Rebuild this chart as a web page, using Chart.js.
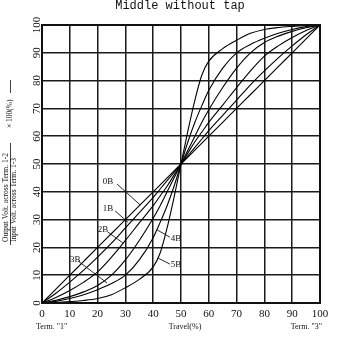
<!DOCTYPE html>
<html>
<head>
<meta charset="utf-8">
<script src="https://cdn.jsdelivr.net/npm/chart.js@4.4.1/dist/chart.umd.min.js"></script>
<style>
  html, body { margin: 0; padding: 0; background: #fff; }
  canvas { display: block; }
</style>
</head>
<body>
<canvas id="grafico" width="340" height="340"></canvas>
<script>
// travel (%) and output (%) for each taper curve
const travel = [0, 5, 10, 15, 20, 25, 30, 35, 40, 42.5, 45, 47.5, 50,
  52.5, 55, 57.5, 60, 65, 70, 75, 80, 85, 90, 95, 100];

const curva0B = [0, 5, 10, 15, 20, 25, 30, 35, 40, 42.5, 45, 47.5, 50,
  52.5, 55, 57.5, 60, 65, 70, 75, 80, 85, 90, 95, 100];
const curva1B = [0, 3.5, 7.5, 11.8, 16.5, 21.5, 27, 32.5, 38, 41, 44, 47, 50,
  53, 56, 59, 62, 67.5, 73, 78.5, 83.5, 88.2, 92.5, 96.5, 100];
const curva2B = [0, 2, 4.5, 7.5, 11.2, 16.5, 22.5, 28.8, 35, 38.5, 42, 46, 50,
  54, 58, 61.5, 65, 71.2, 77.5, 83.5, 88.8, 92.5, 95.5, 98, 100];
const curva3B = [0, 1, 2.3, 4, 6.3, 10, 15.5, 22.5, 30.5, 35, 40, 45, 50,
  55, 60, 65, 69.5, 77.5, 84.5, 90, 93.7, 96, 97.7, 99, 100];
const curva4B = [0, 0.6, 1.6, 3, 4.8, 7, 10, 15.5, 23.5, 29, 35, 42, 50,
  58, 65, 71, 76.5, 84.5, 90, 93, 95.2, 97, 98.4, 99.4, 100];
const curva5B = [0, 0.2, 0.5, 0.9, 1.6, 3, 5.5, 8.5, 13, 18, 27, 38, 50,
  62, 73, 82, 87, 91.5, 94.5, 97, 98.4, 99.1, 99.5, 99.8, 100];

const series = [curva0B, curva1B, curva2B, curva3B, curva4B, curva5B];
const nombres = ["0B", "1B", "2B", "3B", "4B", "5B"];
const ticks = [0, 10, 20, 30, 40, 50, 60, 70, 80, 90, 100];

// label text position + leader line (in data units)
const etiquetas = [
  { t: "0B", x: 23.7, y: 43.5, l: [27, 42.8, 35.3, 35.3] },
  { t: "1B", x: 23.7, y: 33.8, l: [26.3, 33.1, 30.9, 29.1] },
  { t: "2B", x: 21.9, y: 26.3, l: [23.7, 25.5, 29.1, 21.6] },
  { t: "3B", x: 12,   y: 15.5, l: [13, 15.1, 23.4, 7.2] },
  { t: "4B", x: 48.2, y: 23,   l: [41.4, 26.3, 46, 23.7] },
  { t: "5B", x: 48.2, y: 13.7, l: [41.7, 16.2, 46, 14] }
];

const SERIF = '"Liberation Serif", "DejaVu Serif", serif';

// ======================================================
// texts: title, ticks, axis titles, curve labels
// ======================================================
const textos = {
  id: "textos",
  afterDraw(chart) {
    const ctx = chart.ctx;
    const sx = chart.scales.x;
    const sy = chart.scales.y;
    const a = chart.chartArea;
    ctx.save();
    ctx.fillStyle = "#111";
    ctx.strokeStyle = "#111";

    // frame
    ctx.lineWidth = 2;
    ctx.strokeRect(a.left, a.top, a.right - a.left, a.bottom - a.top);

    // title
    ctx.font = '12px "Liberation Mono", monospace';
    ctx.textAlign = "center";
    ctx.textBaseline = "alphabetic";
    ctx.fillText("Middle without tap", 180, 9);

    // x ticks
    ctx.font = "11px " + SERIF;
    ctx.textBaseline = "middle";
    ticks.forEach(v => ctx.fillText(String(v), sx.getPixelForValue(v), 314));

    // y ticks (rotated)
    ticks.forEach(v => {
      ctx.save();
      ctx.translate(37, sy.getPixelForValue(v));
      ctx.rotate(-Math.PI / 2);
      ctx.fillText(String(v), 0, 0);
      ctx.restore();
    });

    // bottom texts
    ctx.font = "8px " + SERIF;
    ctx.textAlign = "left";
    ctx.fillText('Term. "1"', 36, 327);
    ctx.textAlign = "center";
    ctx.fillText("Travel(%)", 185, 327);
    ctx.textAlign = "right";
    ctx.fillText('Term. "3"', 322, 327);

    // y axis title as a fraction
    ctx.save();
    ctx.translate(10.5, 242);
    ctx.rotate(-Math.PI / 2);
    ctx.font = "7.5px " + SERIF;
    ctx.textAlign = "left";
    ctx.textBaseline = "middle";
    ctx.fillText("Output Volt. across Term. 1-2", 0, -4);
    ctx.fillText("Input Volt. across Term. 1-3", 0, 4);
    ctx.lineWidth = 0.8;
    ctx.beginPath();
    ctx.moveTo(-3, 0);
    ctx.lineTo(99, 0);
    ctx.stroke();
    ctx.fillText("\u00d7 100(%)", 114, 0);
    ctx.beginPath();
    ctx.moveTo(149, 0);
    ctx.lineTo(162, 0);
    ctx.stroke();
    ctx.restore();

    // curve labels
    ctx.font = "9px " + SERIF;
    ctx.textAlign = "center";
    ctx.textBaseline = "middle";
    ctx.lineWidth = 0.9;
    etiquetas.forEach(e => {
      ctx.fillText(e.t, sx.getPixelForValue(e.x), sy.getPixelForValue(e.y));
      ctx.beginPath();
      ctx.moveTo(sx.getPixelForValue(e.l[0]), sy.getPixelForValue(e.l[1]));
      ctx.lineTo(sx.getPixelForValue(e.l[2]), sy.getPixelForValue(e.l[3]));
      ctx.stroke();
    });
    ctx.restore();
  }
};

const fondo = {
  id: "fondo",
  beforeDraw(chart) {
    const ctx = chart.ctx;
    ctx.save();
    ctx.fillStyle = "#fff";
    ctx.fillRect(0, 0, chart.width, chart.height);
    ctx.restore();
  }
};

const eje = {
  type: "linear",
  min: 0,
  max: 100,
  ticks: { display: false, stepSize: 10 },
  grid: { color: "#1a1a1a", lineWidth: 1.5, drawTicks: false },
  border: { color: "#111", width: 2 }
};

new Chart(document.getElementById("grafico"), {
  type: "line",
  data: {
    datasets: series.map((s, i) => ({
      label: nombres[i],
      data: travel.map((x, j) => ({ x: x, y: s[j] })),
      borderColor: "#000",
      borderWidth: 1.1,
      pointRadius: 0,
      fill: false,
      cubicInterpolationMode: "monotone"
    }))
  },
  options: {
    responsive: false,
    animation: false,
    layout: { padding: { left: 42, top: 25, right: 20, bottom: 37 } },
    plugins: { legend: { display: false }, tooltip: { enabled: false } },
    scales: { x: eje, y: eje }
  },
  plugins: [fondo, textos]
});
</script>
</body>
</html>
